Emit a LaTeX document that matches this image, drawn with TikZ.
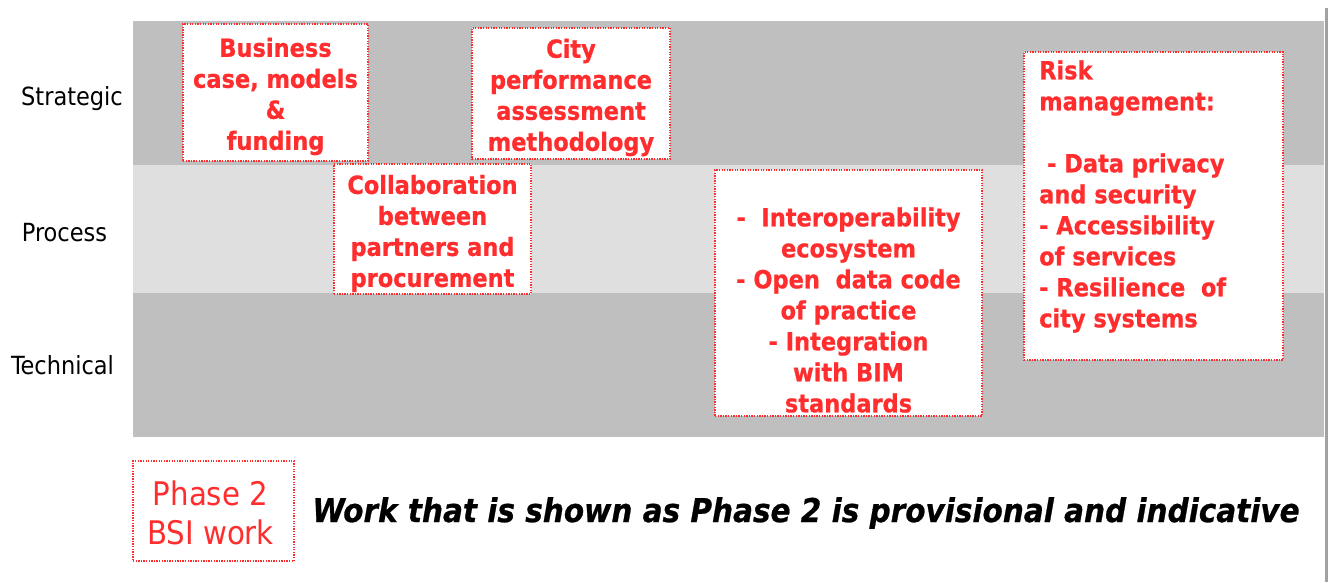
\documentclass[tikz,border=0pt]{standalone}
\usepackage{fontspec}
\setmainfont{DejaVu Sans Condensed}[BoldFont={DejaVu Sans Condensed Bold},ItalicFont={DejaVu Sans Condensed Oblique},BoldItalicFont={DejaVu Sans Condensed Bold Oblique}]
\newfontfamily\heavyfont{DejaVu Sans Condensed Bold}[FakeBold=0.7]
\newfontfamily\heavyitfont{DejaVu Sans Condensed Bold Oblique}[FakeBold=0.7]
\definecolor{bandDark}{HTML}{BFBFBF}
\definecolor{bandLight}{HTML}{DFDFDF}
\definecolor{redTxt}{RGB}{255,45,45}
\definecolor{edgeGrey}{HTML}{A0A0A6}
\tikzset{
  band/.style={fill=#1,draw=none},
  workbox/.style={draw=redTxt,fill=white,line width=1.5pt,dash pattern=on 1.3pt off 1.3pt,inner sep=0pt},
  worktext/.style={text=redTxt,font=\fontsize{25}{31}\selectfont\heavyfont,inner sep=0pt},
  rowlabel/.style={text=black,font=\fontsize{25}{30}\selectfont,inner sep=0pt},
}
\begin{document}
\begin{tikzpicture}[x=1pt,y=-1pt]
\useasboundingbox (0,0) rectangle (1330,582);
\fill[white] (0,0) rectangle (1330,582);
% bands
\path[band=bandDark] (133,21) rectangle (1324,165);
\path[band=bandLight] (133,165) rectangle (1324,293);
\path[band=bandDark] (133,293) rectangle (1324,437);
\draw[edgeGrey,line width=3pt] (1326.5,8) -- (1326.5,582);
% row labels
\node[rowlabel] (strat) at (72,99) {Strategic};
\node[rowlabel] (proc) at (64.5,233) {Process};
\node[rowlabel] (tech) at (62.5,365) {Technical};
% boxes
\node[workbox,minimum width=185pt,minimum height=137pt] (bizbox) at (275.5,92.5) {};
\node[worktext,align=center] (biz) at (275.5,96.5) {Business\\case, models\\\&\\funding};
\node[workbox,minimum width=198pt,minimum height=131pt] (citybox) at (571,93.5) {};
\node[worktext,align=center] (city) at (571,97.5) {City\\performance\\assessment\\methodology};
\node[workbox,minimum width=197pt,minimum height=130pt] (collabbox) at (432.5,229) {};
\node[worktext,align=center] (collab) at (432.5,233.5) {Collaboration\\between\\partners and\\procurement};
\node[workbox,minimum width=267pt,minimum height=246pt] (interbox) at (848.5,293) {};
\node[worktext,align=center] (inter) at (848.5,310) {-~ Interoperability\\ecosystem\\- Open~ data code\\of practice\\- Integration\\with BIM\\standards};
\node[workbox,minimum width=259pt,minimum height=308pt] (riskbox) at (1153.5,206) {};
\node[worktext,align=left,anchor=west] (risk) at (1039,196.5) {Risk\\management:\\[31pt]~- Data privacy\\and security\\- Accessibility\\of services\\- Resilience~ of\\city systems};
% legend
\node[workbox,minimum width=161pt,minimum height=100pt] (phasebox) at (213.5,511) {};
\node[text=redTxt,font=\fontsize{32.5}{39}\selectfont,align=center,inner sep=0pt] (phase) at (210.5,512.5) {Phase 2\\BSI work};
\node[font=\fontsize{32.8}{38}\selectfont\heavyitfont,inner sep=0pt] (note) at (806,513) {Work that is shown as Phase 2 is provisional and indicative};
\end{tikzpicture}
\end{document}
